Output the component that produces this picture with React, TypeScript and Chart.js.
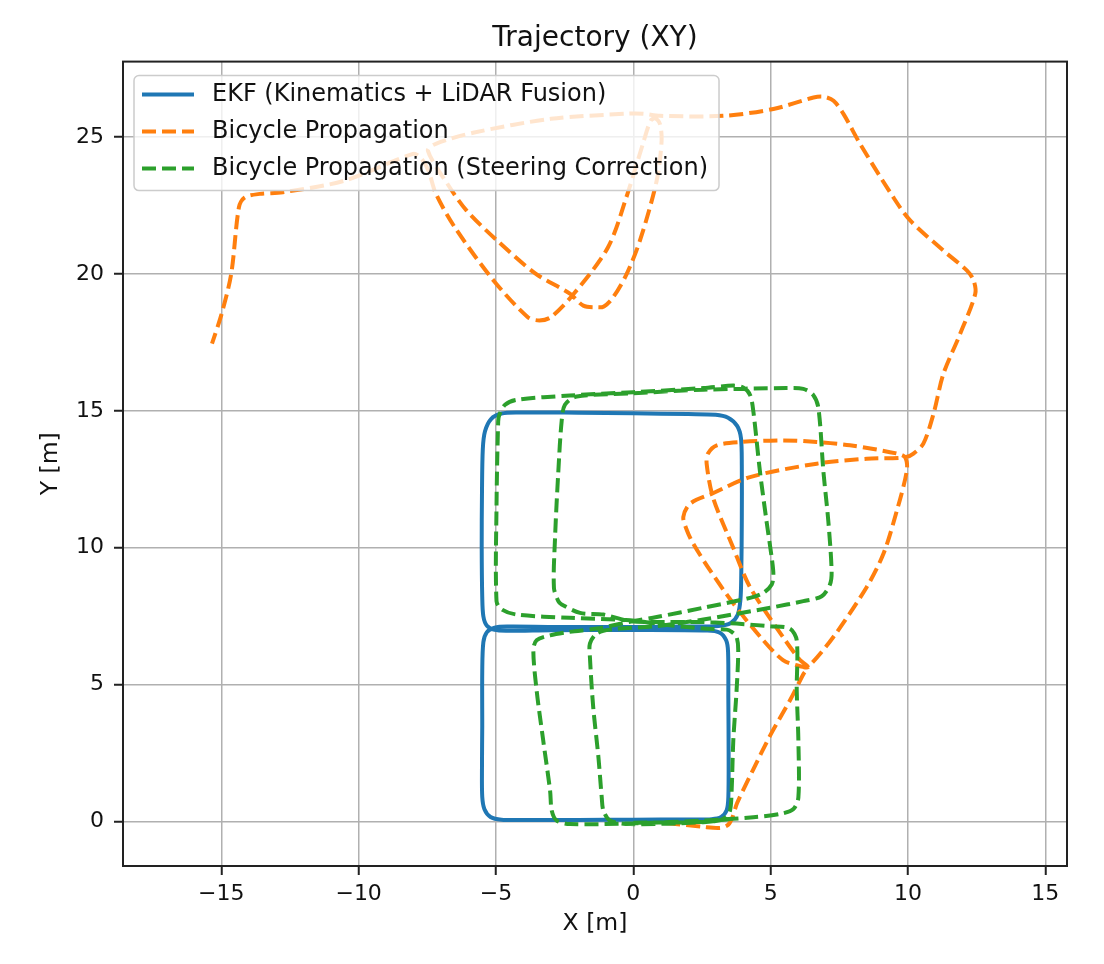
import React, { useEffect, useRef } from 'react';
import { Chart, registerables } from 'chart.js';

Chart.register(...registerables);

const FONT = '"DejaVu Sans", "Liberation Sans", sans-serif';
const TEXT = '#111111';

// axis limits (equal aspect like the matplotlib figure)
const xLimits = [-18.58, 15.79];
const yLimits = [-1.62, 27.75];
const xTicks = [-15, -10, -5, 0, 5, 10, 15];
const yTicks = [0, 5, 10, 15, 20, 25];

const seriesLabels = [
  'EKF (Kinematics + LiDAR Fusion)',
  'Bicycle Propagation',
  'Bicycle Propagation (Steering Correction)',
];
const seriesColors = ['#1f77b4', '#ff7f0e', '#2ca02c'];

// EKF estimate, figure-eight of two rounded squares [x, y] in metres
const ekfPath = [
  [-5.5, 3.5], [-5.51, 2.0], [-5.5, 0.9], [-5.42, 0.45], [-5.2, 0.17], [-4.8, 0.07], [-4.0, 0.06],
  [-2.0, 0.06], [0.0, 0.07], [2.0, 0.08], [2.85, 0.09], [3.2, 0.17], [3.4, 0.42], [3.46, 0.9],
  [3.47, 2.5], [3.46, 4.5], [3.45, 6.2], [3.38, 6.62], [3.15, 6.9], [2.7, 6.98], [0.0, 7.0],
  [-3.0, 6.99], [-4.6, 6.97], [-5.05, 7.0], [-5.33, 7.15], [-5.46, 7.5], [-5.5, 8.2], [-5.52, 10.0],
  [-5.51, 12.0], [-5.48, 13.6], [-5.4, 14.25], [-5.18, 14.7], [-4.8, 14.9], [-4.2, 14.94], [-2.0, 14.93],
  [0.0, 14.91], [2.0, 14.88], [3.0, 14.86], [3.45, 14.75], [3.78, 14.45], [3.92, 14.0], [3.95, 13.0],
  [3.95, 11.0], [3.93, 9.0], [3.9, 8.1], [3.8, 7.55], [3.55, 7.25], [3.1, 7.14], [2.0, 7.12],
  [0.0, 7.11], [-3.0, 7.11], [-4.6, 7.12], [-5.05, 7.08], [-5.33, 6.92], [-5.46, 6.55], [-5.5, 5.5],
  [-5.5, 3.5],
];

// plain bicycle-model propagation
const bikePath = [
  [1.2, -0.05], [2.54, -0.19], [3.16, -0.23], [3.45, -0.12], [3.6, 0.13], [3.78, 0.68], [4.36, 1.89],
  [4.98, 3.14], [5.71, 4.44], [6.2, 5.4], [6.36, 5.64],
  [6.07, 5.9], [5.45, 6.74], [4.25, 8.56], [3.63, 10.02], [2.9, 11.84], [2.67, 13.07], [2.72, 13.44],
  [3.04, 13.74], [3.88, 13.86], [5.45, 13.92], [6.68, 13.86], [7.89, 13.74], [9.6, 13.44], [9.9, 13.3],
  [9.96, 12.83], [9.6, 11.37], [9.11, 9.79], [8.5, 8.57], [7.29, 6.75], [6.36, 5.64],
  [6.18, 5.65], [5.45, 5.9], [4.62, 6.75], [3.63, 7.98], [2.79, 9.18], [2.17, 10.17], [1.95, 10.64],
  [1.82, 11.12], [2.07, 11.61], [2.9, 11.99], [4.25, 12.58], [6.68, 13.07], [8.5, 13.25], [9.9, 13.3],
  [10.2, 13.44], [10.56, 13.8], [10.93, 14.89], [11.29, 16.35], [11.9, 17.81], [12.45, 19.27],
  [12.39, 19.76], [12.15, 20.12], [11.29, 20.85], [10.08, 21.95], [9.47, 22.79], [8.26, 24.74],
  [7.65, 25.84], [7.29, 26.32], [6.92, 26.47], [6.56, 26.44], [5.1, 26.02], [3.28, 25.77], [0.97, 25.77],
  [0.35, 25.85], [-0.21, 25.85], [-3.0, 25.66], [-5.79, 25.16], [-7.19, 24.75], [-7.48, 24.5],
  [-6.77, 23.29], [-6.07, 22.31], [-4.95, 21.21], [-3.56, 20.01], [-2.31, 19.28], [-1.82, 18.84],
  [-1.33, 18.78], [-1.07, 18.81], [-0.73, 19.15], [-0.24, 20.0], [0.24, 21.21], [0.85, 23.4],
  [1.03, 24.86], [0.97, 25.47], [0.8, 25.68],
  [0.63, 25.59], [0.35, 24.75], [-0.21, 22.93], [-0.92, 20.97], [-2.16, 19.28], [-3.0, 18.42],
  [-3.42, 18.3], [-3.84, 18.42], [-5.09, 19.76], [-6.5, 21.7], [-7.19, 22.93], [-7.46, 23.77],
  [-7.75, 24.25], [-8.02, 24.38], [-10.53, 23.4], [-12.76, 22.98], [-13.6, 22.92], [-14.15, 22.79],
  [-14.36, 22.43], [-14.64, 20.0], [-14.99, 18.54], [-15.34, 17.45],
];

// bicycle propagation with steering correction
const steerPath = [
  [0.0, -0.04], [2.0, -0.02], [3.0, 0.02], [3.35, 0.15], [3.52, 0.4], [3.58, 1.13], [3.64, 2.96],
  [3.76, 4.79], [3.82, 6.26], [3.76, 6.74], [3.58, 6.93], [3.4, 7.01], [2.55, 7.05], [1.33, 7.17],
  [-0.12, 7.35], [-2.31, 7.44], [-4.25, 7.56], [-4.79, 7.75], [-4.98, 8.05],
  [-4.98, 11.57], [-4.92, 14.61], [-4.88, 14.85], [-4.67, 15.22], [-4.25, 15.4],
  [-2.31, 15.56], [0.0, 15.68], [2.55, 15.83], [3.64, 15.92], [4.0, 15.85], [4.25, 15.58],
  [4.37, 14.98], [4.61, 12.79], [4.85, 10.97], [5.04, 9.63], [5.1, 9.02], [5.04, 8.66], [4.73, 8.35],
  [4.25, 8.17], [2.55, 7.81], [0.85, 7.47], [-0.12, 7.3], [-1.33, 7.05], [-2.31, 6.93], [-3.03, 6.8],
  [-3.52, 6.62], [-3.64, 6.26],
  [-3.52, 4.79], [-3.28, 2.96], [-3.03, 1.13], [-2.97, 0.4], [-2.79, 0.04], [-2.31, -0.09],
  [0.12, -0.06], [2.55, 0.04], [4.37, 0.16], [5.34, 0.28], [5.83, 0.46], [6.01, 0.89],
  [6.01, 2.96], [5.95, 4.79], [5.95, 6.62], [5.7, 7.05], [4.98, 7.13], [3.76, 7.23], [2.55, 7.29],
  [1.33, 7.29], [-0.12, 7.32], [-1.09, 7.56], [-1.94, 7.62], [-2.61, 7.93], [-2.73, 8.05], [-2.89, 8.54],
  [-2.85, 10.36], [-2.73, 12.79], [-2.61, 14.61], [-2.49, 15.22], [-2.06, 15.52],
  [0.0, 15.64], [2.55, 15.77], [5.58, 15.83], [6.19, 15.8], [6.55, 15.58], [6.74, 15.1],
  [6.92, 12.79], [7.1, 10.97], [7.22, 9.14], [7.16, 8.66], [6.86, 8.23], [6.19, 8.05],
  [4.98, 7.81], [2.55, 7.38], [0.85, 7.14], [-0.85, 7.01], [-1.33, 6.87], [-1.58, 6.5],
  [-1.58, 6.01], [-1.46, 4.18], [-1.27, 2.35], [-1.15, 0.89], [-1.09, 0.4], [-0.85, 0.04],
  [-0.12, -0.09], [2.55, -0.02], [3.52, 0.1],
];

const toPoints = (path: number[][]) => path.map(([x, y]) => ({ x, y }));
const fmtTick = (v: number) => (v < 0 ? '\u2212' + Math.abs(v) : String(v));

// frame + legend drawn inside the axes, like matplotlib's "upper left"
const framePlugin = {
  id: 'frameAndLegend',
  afterDatasetsDraw(chart: any) {
    const { ctx, chartArea } = chart;
    const { left, top, right, bottom } = chartArea;
    ctx.save();
    ctx.strokeStyle = '#222222';
    ctx.lineWidth = 2;
    ctx.setLineDash([]);
    ctx.strokeRect(left, top, right - left, bottom - top);

    ctx.font = '24px ' + FONT;
    const sets = chart.data.datasets;
    const textW = Math.max(...sets.map((d: any) => ctx.measureText(d.label).width));
    const bx = left + 11;
    const by = top + 14;
    const bw = 78 + textW + 11;
    const bh = 115;
    ctx.beginPath();
    ctx.roundRect(bx, by, bw, bh, 5);
    ctx.fillStyle = 'rgba(255,255,255,0.8)';
    ctx.fill();
    ctx.strokeStyle = '#cccccc';
    ctx.lineWidth = 1.5;
    ctx.stroke();

    sets.forEach((d: any, i: number) => {
      const cy = by + 19 + i * 37;
      ctx.beginPath();
      ctx.setLineDash(d.borderDash || []);
      ctx.strokeStyle = d.borderColor;
      ctx.lineWidth = d.borderWidth;
      ctx.moveTo(bx + 8, cy);
      ctx.lineTo(bx + 60, cy);
      ctx.stroke();
      ctx.setLineDash([]);
      ctx.fillStyle = TEXT;
      ctx.textAlign = 'left';
      ctx.textBaseline = 'middle';
      ctx.fillText(d.label, bx + 78, cy);
    });
    ctx.restore();
  },
};

const TrajectoryChart = () => {
  const canvasRef = useRef<HTMLCanvasElement | null>(null);

  useEffect(() => {
    if (!canvasRef.current) return;
    const paths = [ekfPath, bikePath, steerPath];
    const dashes = [[], [14, 6], [14, 6]];

    const datasets = paths.map((p, i) => ({
      label: seriesLabels[i],
      data: toPoints(p),
      showLine: true,
      borderColor: seriesColors[i],
      backgroundColor: seriesColors[i],
      borderWidth: 4,
      borderDash: dashes[i],
      borderJoinStyle: 'round' as const,
      pointRadius: 0,
      pointHoverRadius: 0,
      tension: 0.3,
      fill: false,
      order: 3 - i, // green on top, like matplotlib plot order
    }));

    const tickFont = { family: FONT, size: 22 };
    const labelFont = { family: FONT, size: 23.5 };

    const chart = new Chart(canvasRef.current, {
      type: 'scatter',
      data: { datasets },
      options: {
        animation: false,
        responsive: false,
        events: [],
        layout: { padding: { left: 0, right: 37, top: 0, bottom: 0 } },
        plugins: {
          legend: { display: false },
          tooltip: { enabled: false },
          title: {
            display: true,
            text: 'Trajectory (XY)',
            fullSize: false,
            color: TEXT,
            font: { family: FONT, size: 28, weight: 'normal' },
            padding: { top: 22, bottom: 6 },
          },
        },
        scales: {
          x: {
            type: 'linear',
            min: xLimits[0],
            max: xLimits[1],
            afterBuildTicks: (s: any) => {
              s.ticks = xTicks.map((v) => ({ value: v }));
            },
            afterFit: (s: any) => {
              s.height = 98;
            },
            ticks: {
              callback: (v: any) => fmtTick(Number(v)),
              font: tickFont,
              color: TEXT,
              padding: 6,
              maxRotation: 0,
              autoSkip: false,
            },
            grid: { color: '#b0b0b0', lineWidth: 1.5, tickColor: '#222222', tickLength: 9, tickWidth: 2 },
            border: { display: false },
            title: { display: true, text: 'X [m]', font: labelFont, color: TEXT, padding: { top: 0, bottom: 26 } },
          },
          y: {
            type: 'linear',
            min: yLimits[0],
            max: yLimits[1],
            afterBuildTicks: (s: any) => {
              s.ticks = yTicks.map((v) => ({ value: v }));
            },
            afterFit: (s: any) => {
              s.width = 123;
            },
            ticks: {
              callback: (v: any) => fmtTick(Number(v)),
              font: tickFont,
              color: TEXT,
              padding: 10,
              autoSkip: false,
            },
            grid: { color: '#b0b0b0', lineWidth: 1.5, tickColor: '#222222', tickLength: 9, tickWidth: 2 },
            border: { display: false },
            title: { display: true, text: 'Y [m]', font: labelFont, color: TEXT, padding: { top: 37, bottom: 0 } },
          },
        },
      },
      plugins: [framePlugin],
    });

    return () => {
      chart.destroy();
    };
  }, []);

  return <canvas ref={canvasRef} width={1104} height={964} style={{ display: 'block' }} />;
};

export default function App() {
  return (
    <div style={{ position: 'absolute', left: 0, top: 0, width: 1104, height: 964, background: '#ffffff' }}>
      <TrajectoryChart />
    </div>
  );
}
